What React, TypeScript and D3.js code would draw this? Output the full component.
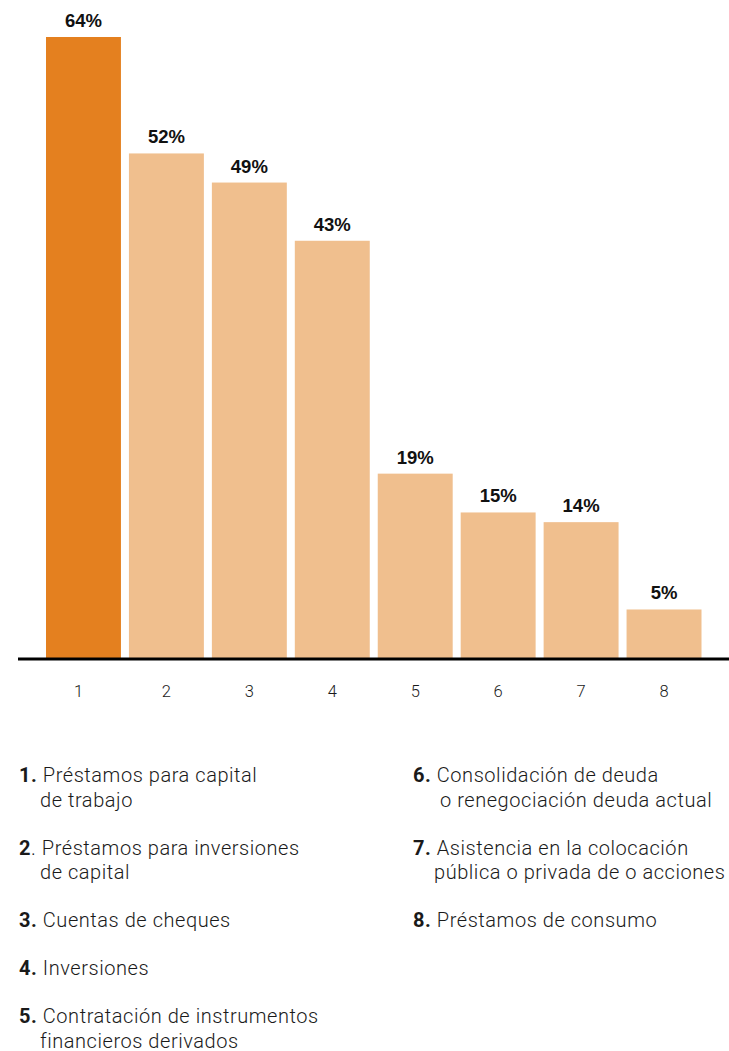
import React from "react";
import * as d3 from "d3";

const categories = ["1", "2", "3", "4", "5", "6", "7", "8"];
const values = [64, 52, 49, 43, 19, 15, 14, 5];
const highlight = ["1"];

const legendNumbers = ["1.", "2", "3.", "4.", "5.", "6.", "7.", "8."];
const legendFirstLines = [
  " Préstamos para capital",
  ". Préstamos para inversiones",
  " Cuentas de cheques",
  " Inversiones",
  " Contratación de instrumentos",
  " Consolidación de deuda",
  " Asistencia en la colocación",
  " Préstamos de consumo",
];
const legendSecondLines = [
  "de trabajo",
  "de capital",
  "",
  "",
  "financieros derivados",
  "o renegociación deuda actual",
  "pública o privada de o acciones",
  "",
];

const W = 729;
const H = 1051;
const baseY = 658;
const DARK = "#E4801F";
const LIGHT = "#F0BF8E";
const FONT = "Roboto, 'Liberation Sans', Arial, sans-serif";

export default function App() {
  const x = d3
    .scaleBand<string>()
    .domain(categories)
    .range([46, 701.5])
    .paddingInner(8 / 83)
    .paddingOuter(0);
  const y = d3.scaleLinear().domain([0, 64]).range([baseY, 37]);

  const columns = [
    { x: 19, items: [0, 1, 2, 3, 4] },
    { x: 413, items: [5, 6, 7] },
  ];
  const legendStart = 782;
  const lineH = 24.5;
  const itemGap = 48;

  return (
    <svg
      width={W}
      height={H}
      style={{ position: "absolute", left: 0, top: 0, background: "#fff" }}
      fontFamily={FONT}
    >
      {categories.map((c, i) => (
        <g key={c}>
          <rect
            x={x(c)}
            y={y(values[i])}
            width={x.bandwidth()}
            height={baseY - y(values[i])}
            fill={highlight.includes(c) ? DARK : LIGHT}
          />
          <text
            x={(x(c) as number) + x.bandwidth() / 2}
            y={y(values[i]) - 10}
            textAnchor="middle"
            fontFamily="'Liberation Sans', Arial, sans-serif"
            fontWeight={700}
            fontSize={18.5}
            fill="#111"
          >
            {values[i]}%
          </text>
          <text
            x={(x(c) as number) + x.bandwidth() / 2 - (c === "1" ? 5 : 0)}
            y={697}
            textAnchor="middle"
            fontWeight={300}
            fontSize={16.5}
            fill="#1a1a1a"
          >
            {c}
          </text>
        </g>
      ))}
      <line x1={18} x2={729} y1={baseY + 1} y2={baseY + 1} stroke="#000" strokeWidth={3} />

      {columns.map((col, ci) => {
        let cy = legendStart;
        return (
          <g key={ci}>
            {col.items.map((idx) => {
              const y0 = cy;
              const two = legendSecondLines[idx] !== "";
              cy += two ? lineH + itemGap : itemGap;
              return (
                <g key={idx} fontSize={20} letterSpacing={0.55} fill="#1a1a1a">
                  <text x={col.x} y={y0}>
                    <tspan fontWeight={700}>{legendNumbers[idx]}</tspan>
                    <tspan fontWeight={300} style={{ whiteSpace: "pre" }}>
                      {legendFirstLines[idx]}
                    </tspan>
                  </text>
                  {two && (
                    <text x={col.x + 21 + (idx === 5 ? 6 : 0)} y={y0 + lineH} fontWeight={300}>
                      {legendSecondLines[idx]}
                    </text>
                  )}
                </g>
              );
            })}
          </g>
        );
      })}
    </svg>
  );
}
